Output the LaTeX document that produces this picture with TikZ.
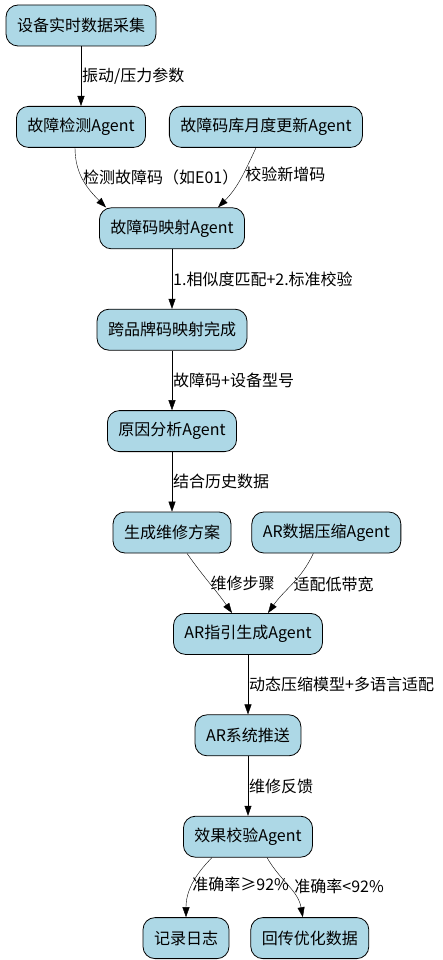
\documentclass[tikz,border=0pt]{standalone}
\usepackage{fontspec}
\setmainfont{Noto Sans CJK SC}
\usepackage{xcolor}
\usetikzlibrary{positioning, arrows.meta}
\definecolor{nodeblue}{HTML}{ADD8E6}

\begin{document}
\begin{tikzpicture}[node distance=59.6pt, >={Triangle[length=10pt,width=7pt]},
    font=\fontsize{16}{19}\selectfont,
    block/.style={draw, line width=0.8pt, fill=nodeblue, rounded corners=12pt, minimum height=41pt, inner xsep=11pt},
    lbl/.style={right, inner sep=1pt}]

        \useasboundingbox (0,0) rectangle (443pt,-960pt);

        \node (collect) [block] at (81pt,-25.5pt) {设备实时数据采集};
        \node (detect) [block, below=of collect] {故障检测Agent};
        \node (update) [block, right=23pt of detect] {故障码库月度更新Agent};
        \node (map) [block, below=of detect, xshift=91pt] {故障码映射Agent};
        \node (cross) [block, below=of map] {跨品牌码映射完成};
        \node (cause) [block, below=of cross] {原因分析Agent};
        \node (plan) [block, below=of cause] {生成维修方案};
        \node (compress) [block, right=20pt of plan] {AR数据压缩Agent};
        \node (guide) [block, below=of plan, xshift=76pt] {AR指引生成Agent};
        \node (push) [block, below=of guide] {AR系统推送};
        \node (verify) [block, below=of push] {效果校验Agent};
        \node (log) [block, below=of verify, xshift=-62pt] {记录日志};
        \node (feedback) [block, right=21pt of log] {回传优化数据};

        \draw [->] (collect) -- (detect) node[lbl, midway] {振动/压力参数};
        \draw [->] ([xshift=-6pt]detect.south) to [out=-90, in=135] node[lbl, pos=0.45] {检测故障码（如E01）} ([xshift=-66pt]map.north);
        \draw [->] ([xshift=-10pt]update.south) to [out=-115, in=45] node[lbl, pos=0.4, xshift=1pt] {校验新增码} ([xshift=46pt]map.north);
        \draw [->] (map) -- (cross) node[lbl, midway] {1.相似度匹配+2.标准校验};
        \draw [->] (cross) -- (cause) node[lbl, midway] {故障码+设备型号};
        \draw [->] (cause) -- (plan) node[lbl, midway] {结合历史数据};

        \draw [->] ([xshift=15pt]plan.south) to [out=-55, in=125] node[lbl, pos=0.5] {维修步骤} ([xshift=-16pt]guide.north);
        \draw [->] ([xshift=-13pt]compress.south) to [out=-115, in=55] node[lbl, pos=0.5] {适配低带宽} ([xshift=20pt]guide.north);
        \draw [->] (guide) -- (push) node[lbl, midway] {动态压缩模型+多语言适配};
        \draw [->] (push) -- (verify) node[lbl, midway] {维修反馈};

        \draw [->] ([xshift=-36pt]verify.south) to [out=-135, in=90] node[lbl, pos=0.5, xshift=-1pt] {准确率≥92\%} (log.north);
        \draw [->] ([xshift=19pt]verify.south) to [out=-60, in=100] node[lbl, pos=0.5, xshift=5pt] {准确率<92\%} ([xshift=-7pt]feedback.north);
    \end{tikzpicture}
\end{document}
